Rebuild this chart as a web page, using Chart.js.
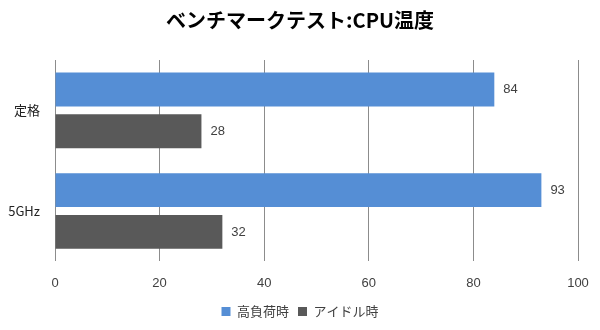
<!DOCTYPE html>
<html>
<head>
<meta charset="utf-8">
<script src="https://cdn.jsdelivr.net/npm/chart.js@4"></script>
<style>
  html, body { margin: 0; padding: 0; background: #fff; }
  #wrap { width: 600px; height: 330px; }
</style>
</head>
<body>
<div id="wrap"><canvas id="chart"></canvas></div>
<script>
const categories = ['定格', '5GHz'];
const seriesNames = ['高負荷時', 'アイドル時'];
const highLoad = [84, 93];
const idle = [28, 32];
const xMin = 0, xMax = 100, xStep = 20;

const jpFont = '"Noto Sans CJK JP", "Noto Sans", sans-serif';
const numFont = '"Liberation Sans", "Noto Sans", sans-serif';

// value labels drawn just past the end of each bar
const valueLabels = {
  id: 'valueLabels',
  afterDatasetsDraw(chart) {
    const ctx = chart.ctx;
    ctx.save();
    ctx.font = '13px ' + numFont;
    ctx.fillStyle = '#404040';
    ctx.textAlign = 'left';
    ctx.textBaseline = 'middle';
    chart.data.datasets.forEach((ds, i) => {
      chart.getDatasetMeta(i).data.forEach((bar, j) => {
        ctx.fillText(ds.data[j], bar.x + 9, bar.y);
      });
    });
    ctx.restore();
  }
};

new Chart(document.getElementById('chart'), {
  type: 'bar',
  data: {
    labels: categories,
    datasets: [
      { label: seriesNames[0], data: highLoad, backgroundColor: '#558ed5',
        categoryPercentage: 0.83, barPercentage: 0.81 },
      { label: seriesNames[1], data: idle, backgroundColor: '#595959',
        categoryPercentage: 0.83, barPercentage: 0.81 }
    ]
  },
  options: {
    indexAxis: 'y',
    responsive: true,
    maintainAspectRatio: false,
    animation: false,
    layout: { padding: { left: 0, right: 0, top: 6, bottom: 2 } },
    scales: {
      x: {
        min: xMin,
        max: xMax,
        afterFit(scale) {
          // keep the plot right edge fixed and the legend centred on the page
          scale.paddingLeft = 0;
          scale.paddingRight = 22;
          scale.height -= 9;
        },
        ticks: { stepSize: xStep, color: '#404040', padding: 14, font: { family: numFont, size: 13 } },
        grid: { color: '#8c8c8c', drawTicks: false },
        border: { display: false }
      },
      y: {
        afterFit(scale) { scale.width = 55; },
        ticks: { color: '#222', padding: 15, font: { family: jpFont, size: 13 } },
        grid: { display: false, drawTicks: false },
        border: { display: false }
      }
    },
    plugins: {
      title: {
        display: true,
        text: 'ベンチマークテスト:CPU温度',
        color: '#000',
        font: { family: jpFont, size: 20, weight: 'bold' },
        padding: { top: 2, bottom: 28 }
      },
      legend: {
        position: 'bottom',
        labels: {
          boxWidth: 9,
          boxHeight: 9,
          color: '#404040',
          padding: 9,
          font: { family: jpFont, size: 13 }
        }
      },
      tooltip: { enabled: false }
    }
  },
  plugins: [valueLabels]
});
</script>
</body>
</html>
